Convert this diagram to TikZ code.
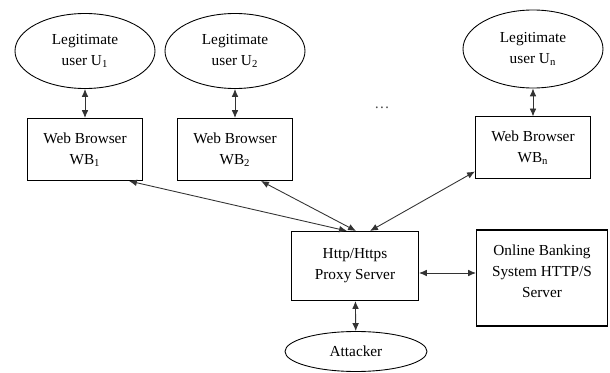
\documentclass[tikz,border=0pt]{standalone}
\usepackage{fontspec}
\setmainfont{Liberation Serif}
\usetikzlibrary{shapes.geometric,arrows.meta,positioning}
\tikzset{
  user/.style={ellipse,draw,minimum width=2.8cm,minimum height=1.5cm,
               align=center,inner sep=1pt,line width=0.5pt},
  wbox/.style={rectangle,draw,minimum width=2.3cm,minimum height=1.24cm,
               align=center,line width=0.6pt},
  arr/.style={{Latex[length=4.5pt,width=3.8pt]}-{Latex[length=4.5pt,width=3.8pt]},
              line width=0.5pt,black!80},
}

\begin{document}
\begin{tikzpicture}[
  font=\fontsize{8.7}{11.9}\selectfont,
  node distance=0.58cm
]
\useasboundingbox (0,0) rectangle (12.2,7.44);

% users and their browsers
\node[user] (u1) at (1.70,6.42) {Legitimate\\user U\textsubscript{1}};
\node[user] (u2) at (4.70,6.42) {Legitimate\\user U\textsubscript{2}};
\node[user,minimum height=1.56cm] (un) at (10.66,6.46) {Legitimate\\user U\textsubscript{n}};
\node[wbox, below=of u1] (wb1) {Web Browser\\WB\textsubscript{1}};
\node[wbox, below=of u2] (wb2) {Web Browser\\WB\textsubscript{2}};
\node[wbox, below=0.56cm of un] (wbn) {Web Browser\\WB\textsubscript{n}};
\node[black!70] (dots) at (7.64,5.28) {\dots};

% proxy, bank server, attacker
\node[wbox,minimum width=2.54cm,minimum height=1.38cm] (proxy) at (7.10,2.12) {Http/Https\\Proxy Server};
\node[wbox,minimum width=2.62cm,minimum height=1.92cm] (bank) at (10.84,1.88) {Online Banking\\System HTTP/S\\Server\\[-4pt]};
\node[user,minimum width=2.84cm,minimum height=0.8cm] (att) at (7.12,0.41) {Attacker};

\draw[arr] (u1)--(wb1);
\draw[arr] (u2)--(wb2);
\draw[arr] (un)--(wbn);
\draw[arr] ([xshift=0.88cm]wb1.south)--([xshift=-0.16cm]proxy.north);
\draw[arr] ([xshift=0.52cm]wb2.south)--([xshift=0.02cm]proxy.north);
\draw[arr] ([yshift=0.16cm]wbn.south west)--([xshift=0.30cm]proxy.north);
\draw[arr] ([yshift=-0.14cm]proxy.east)--([yshift=-0.14cm]proxy.east -| bank.west);
\draw[arr] (proxy)--(att);
\end{tikzpicture}
\end{document}
